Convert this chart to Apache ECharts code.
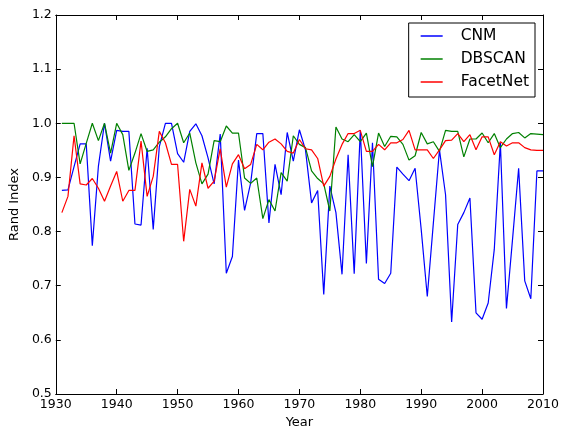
<!DOCTYPE html>
<html><head><meta charset="utf-8">
<script src="https://cdn.jsdelivr.net/npm/echarts@6/dist/echarts.min.js"></script>
<style>html,body{margin:0;padding:0;background:#fff}#c{width:563px;height:434px}</style>
</head><body><div id="c"></div>
<script>
const years = [1931,1932,1933,1934,1935,1936,1937,1938,1939,1940,1941,1942,1943,1944,1945,1946,1947,1948,1949,1950,
1951,1952,1953,1954,1955,1956,1957,1958,1959,1960,1961,1962,1963,1964,1965,1966,1967,1968,1969,1970,
1971,1972,1973,1974,1975,1976,1977,1978,1979,1980,1981,1982,1983,1984,1985,1986,1987,1988,1989,1990,
1991,1992,1993,1994,1995,1996,1997,1998,1999,2000,2001,2002,2003,2004,2005,2006,2007,2008,2009,2010];
const cnm = [0.876,0.877,0.920,0.962,0.962,0.774,0.921,1.000,0.930,0.987,0.985,0.985,0.814,0.812,0.954,0.804,0.957,1.000,1.000,0.944,
0.928,0.985,0.999,0.977,0.936,0.888,0.980,0.723,0.754,0.932,0.839,0.890,0.981,0.981,0.816,0.924,0.868,0.983,0.930,0.988,
0.951,0.853,0.876,0.684,0.884,0.835,0.721,0.942,0.722,0.987,0.741,0.964,0.712,0.704,0.723,0.919,0.906,0.894,0.917,0.804,
0.680,0.816,0.951,0.868,0.633,0.813,0.835,0.862,0.650,0.638,0.668,0.767,0.964,0.658,0.786,0.917,0.709,0.676,0.912,0.912];
const dbscan = [1.000,1.000,1.000,0.925,0.963,1.000,0.968,1.000,0.945,1.000,0.979,0.913,0.945,0.981,0.948,0.951,0.965,0.975,0.990,1.000,
0.964,0.982,0.927,0.888,0.906,0.968,0.966,0.995,0.982,0.982,0.899,0.889,0.899,0.824,0.859,0.838,0.909,0.893,0.977,0.961,
0.955,0.912,0.898,0.888,0.838,0.993,0.971,0.966,0.979,0.966,0.982,0.920,0.982,0.957,0.976,0.975,0.961,0.932,0.940,0.983,
0.962,0.966,0.948,0.987,0.985,0.985,0.938,0.971,0.971,0.982,0.964,0.981,0.955,0.971,0.981,0.983,0.973,0.981,0.980,0.979];
const facetnet = [0.835,0.865,0.977,0.888,0.886,0.898,0.880,0.856,0.884,0.911,0.856,0.876,0.876,0.967,0.865,0.902,0.985,0.964,0.924,0.924,
0.782,0.878,0.847,0.927,0.880,0.893,0.953,0.882,0.925,0.942,0.916,0.924,0.961,0.951,0.965,0.971,0.962,0.948,0.945,0.970,
0.953,0.951,0.935,0.884,0.902,0.934,0.961,0.981,0.981,0.987,0.948,0.948,0.961,0.951,0.964,0.964,0.970,0.987,0.951,0.951,
0.951,0.935,0.951,0.968,0.969,0.981,0.966,0.979,0.951,0.975,0.975,0.942,0.966,0.958,0.964,0.964,0.955,0.951,0.950,0.950];
const seriesNames = ['CNM','DBSCAN','FacetNet'];
const colors = ['#0000ff','#008000','#ff0000'];

const FONT = 'DejaVu Sans';
const chart = echarts.init(document.getElementById('c'), null, {renderer:'canvas'});
const pairs = arr => arr.map((v,i)=>[years[i], v]);
const tickStyle = {show:true, inside:true, length:5, lineStyle:{color:'#000', width:1}};
const lineStyleAxis = {color:'#000', width:1};
chart.setOption({
  animation:false,
  backgroundColor:'#fff',
  textStyle:{fontFamily:FONT},
  grid:{left:50, right:20, top:15, bottom:39, containLabel:false},
  legend:{
    orient:'vertical', right:28, top:23,
    data:seriesNames,
    icon:'rect', itemWidth:22, itemHeight:1.5, itemGap:7,
    padding:[5,6,7,12],
    borderColor:'#000', borderWidth:1, backgroundColor:'#fff',
    textStyle:{fontFamily:FONT, fontSize:15.5, color:'#000', lineHeight:16, padding:[0,0,0,13]}
  },
  xAxis:[{
    type:'value', min:1930, max:2010, interval:10, position:'bottom',
    name:'Year', nameLocation:'middle', nameGap:22,
    nameTextStyle:{fontFamily:FONT, fontSize:13, color:'#000'},
    axisLine:{show:true, lineStyle:lineStyleAxis}, axisTick:tickStyle,
    axisLabel:{fontFamily:FONT, fontSize:12.5, color:'#000', margin:4, formatter:v=>String(v)},
    splitLine:{show:false}
  },{
    type:'value', min:1930, max:2010, interval:10, position:'top',
    axisLine:{show:true, lineStyle:lineStyleAxis}, axisTick:tickStyle,
    axisLabel:{show:false}, splitLine:{show:false}
  }],
  yAxis:[{
    type:'value', min:0.5, max:1.2, interval:0.1, position:'left',
    name:'Rand Index', nameLocation:'middle', nameGap:30,
    nameTextStyle:{fontFamily:FONT, fontSize:13, color:'#000'},
    axisLine:{show:true, lineStyle:lineStyleAxis}, axisTick:tickStyle,
    axisLabel:{fontFamily:FONT, fontSize:12.5, color:'#000', margin:4, formatter:v=>v.toFixed(1)},
    splitLine:{show:false}
  },{
    type:'value', min:0.5, max:1.2, interval:0.1, position:'right',
    axisLine:{show:true, lineStyle:lineStyleAxis}, axisTick:tickStyle,
    axisLabel:{show:false}, splitLine:{show:false}
  }],
  series:[cnm, dbscan, facetnet].map((arr,i)=>({
    name:seriesNames[i], type:'line', data:pairs(arr),
    xAxisIndex:0, yAxisIndex:0,
    showSymbol:false, symbol:'none',
    lineStyle:{color:colors[i], width:1.2}, itemStyle:{color:colors[i]},
    z: 2
  }))
});
</script></body></html>
